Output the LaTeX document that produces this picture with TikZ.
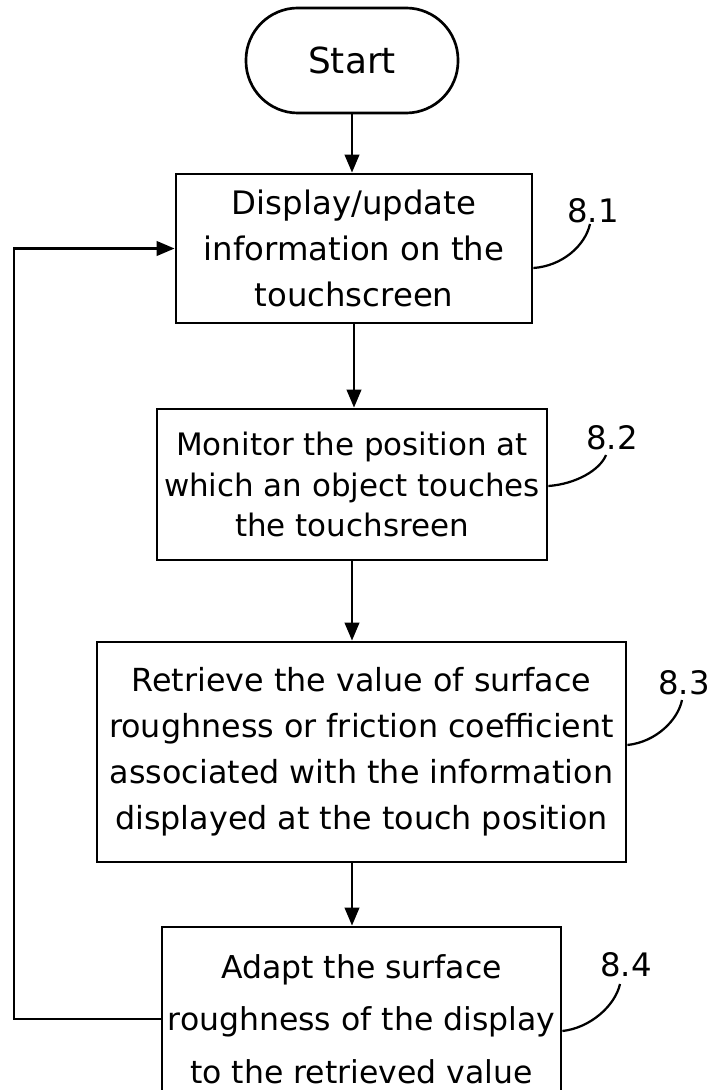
\documentclass[tikz,border=0pt]{standalone}
\usepackage{fontspec}
\setmainfont{DejaVu Sans}
\usetikzlibrary{arrows.meta}
\begin{document}
\begin{tikzpicture}[x=0.025cm,y=-0.025cm,
  line width=1.9pt,
  arr/.style={-{Triangle[length=0.45cm,width=0.36cm]}},
  stepbox/.style={draw,rectangle,align=center,inner sep=0pt},
  lbl/.style={font=\fontsize{23}{27}\selectfont,inner sep=0pt},
  leader/.style={line width=1.6pt}]
\useasboundingbox (0,0) rectangle (712,1090);
\clip (0,0) rectangle (712,1090);
% terminal
\node[draw,rectangle,rounded corners=1.3cm,minimum width=5.3cm,minimum height=2.625cm,
      font=\fontsize{25.5}{28}\selectfont] (start) at (352,60.5) {Start};
% process boxes
\node[stepbox,minimum width=8.9cm,minimum height=3.725cm,
      font=\fontsize{23}{32.4}\selectfont] (b1) at (354,248.5)
  {Display/update\\information on the\\touchscreen};
\node[stepbox,minimum width=9.75cm,minimum height=3.775cm,
      font=\fontsize{22}{29}\selectfont] (b2) at (352,484.5)
  {Monitor the position at\\which an object touches\\the touchsreen};
\node[stepbox,minimum width=13.225cm,minimum height=5.5cm,
      font=\fontsize{22.6}{32.8}\selectfont] (b3) at (361.5,752)
  {Retrieve the value of surface\\roughness or friction coefficient\\associated with the information\\displayed at the touch position};
\node[stepbox,minimum width=9.975cm,minimum height=4.6cm,
      font=\fontsize{22.4}{37.5}\selectfont] (b4) at (361.5,1019)
  {Adapt the surface\\roughness of the display\\to the retrieved value};
% labels
\node[lbl] (l1) at (593,211) {8.1};
\node[lbl] (l2) at (612,438) {8.2};
\node[lbl] (l3) at (684,683) {8.3};
\node[lbl] (l4) at (626,965) {8.4};
\coordinate (c1) at (590,224);
\coordinate (c2) at (606,455);
\coordinate (c3) at (682,700);
\coordinate (c4) at (620,984);
% flow arrows
\draw[arr] (start.south) -- (start.south |- b1.north);
\draw[arr] (b1.south) -- (b1.south |- b2.north);
\draw[arr] (b2.south) -- (b2.south |- b3.north);
\draw[arr] (b2.south |- b3.south) -- (b2.south |- b4.north);
% feedback loop
\coordinate (lp) at (14,600);
\draw[arr] (b4.west) -| (lp) |- (b1.west);
% leaders
\draw[leader] (b1.east |- 0,268) .. controls (562,266) and (585,246) .. (c1);
\draw[leader] (b2.east |- 0,486) .. controls (576,484) and (600,470) .. (c2);
\draw[leader] (b3.east |- 0,745) .. controls (656,742) and (678,720) .. (c3);
\draw[leader] (b4.east |- 0,1031) .. controls (590,1028) and (615,1006) .. (c4);
\end{tikzpicture}
\end{document}
